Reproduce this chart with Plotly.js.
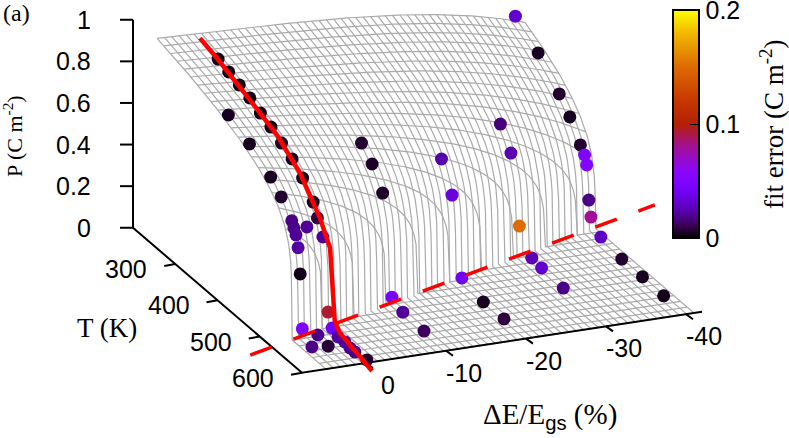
<!DOCTYPE html>
<html>
<head>
<meta charset="utf-8">
<script src="https://cdn.plot.ly/plotly-3.0.1.min.js"></script>
<style>html,body{margin:0;padding:0;background:#fff}#grafico{width:789px;height:438px}</style>
</head>
<body>
<div id="grafico"></div>
<script>
// points: strain (%), temperature (K), polarization, fit error
const ptE = [0,0,0,0,0,0,0,0,0,0,0,
  4,4,4,4,4,4,4,4,4,4,
  2,0,0,2,3.75,1.93,-0.72,-0.25,-0.37,-0.16,-0.19,-0.48,
  -10.2,-10.1,-10.9,-20.7,-20,-20.1,-30.6,-30.4,-30.2,-40.5,-40,-40,-39.9,
  -39.8,-40,-40,-40,-40,-40,-40,-40,-40,
  -30,-30,-30,-20,-20,-10,-10,-10];
const ptT = [250,275,300,325,350,375,400,425,450,475,485,
  350,400,450,475,500,505,510,515,520,525,
  498,498,510,524,543,547,506,529,543,559,570,593,
  494,546,455,435,499,546,413,440,495,389,448,497,549,
  200,250,300,325,350,360,365,370,375,
  350,375,395,400,425,400,425,450];
const ptP = [.851,.833,.814,.795,.766,.742,.709,.676,.628,.556,.497,
  .78,.728,.656,.604,.533,.508,.483,.43,.3125,.057,
  .488,.428,.088,.014,0,0,0,0,0,0,0,0,
  0,0,0,0,0,0,0,0,0,0,0,0,0,
  .737,.646,.536,.469,.378,.347,.308,.148,.075,
  .537,.441,.125,.515,.385,.65,.593,.497];
const ptErr = [.003,.003,.003,.003,.003,.003,.004,.004,.004,.005,.008,
  .004,.004,.004,.006,.018,.018,.02,.022,.003,.048,
  .02,.02,.094,.018,.018,.007,.04,.022,.02,.02,.018,.006,
  .02,.012,.045,.04,.004,.008,.025,.03,.018,.028,.006,.004,.003,
  .03,.004,.006,.004,.006,.05,.052,.018,.08,
  .016,.025,.15,.024,.034,.006,.005,.005];

// solid red curve
const curveE = [0,0,0,0,0,0,0,-1,-1.9,-0.95,0.35];
const curveT = [207,247,325,389,444,484,491,496,490,520,621];
const curveP = [.877,.851,.786,.729,.641,.534,.507,.366,0,0,0];

// dashed red line on the floor
const dashE = [11.3,-50.2];
const dashT = [540,333];
const dashP = [0,0];

const tempTicks = [300,400,500,600];
const strainTicks = [0,-10,-20,-30,-40];
const polTicks = [0,.2,.4,.6,.8,1];
const polLabels = ['0','0.2','0.4','0.6','0.8','1'];

const errMax = 0.2;
const errTicks = [0,.1,.2];
const errLabels = ['0','0.1','0.2'];
const paleta = [[0,'#000000'],[.05,'#39004f'],[.1,'#500096'],[.15,'#6301ce'],[.2,'#7202f3'],[.25,'#8004ff'],
  [.3,'#8c07f3'],[.4,'#a11096'],[.45,'#ab174f'],[.5,'#b42000'],[.6,'#c63700'],[.75,'#dd6b00'],[.9,'#f2b900'],[1,'#ffff00']];

// gnuplot style view, fitted to the axis ticks of the picture
function proyX(e, t) { return 366 - 8.0 * e + 0.4225 * (t - 600); }
function proyY(e, t, p) { return 363 + 1.22 * e + 0.3625 * (t - 600) - 208 * p; }

// fit surface, constants (not read point by point)
function fitP(e, t) {
    const tc = 502.6 + 3.32 * e;
    if (t >= tc) return 0;
    return (0.978 - 0.125 * Math.pow(e / 41, 4)) * Math.pow(1 - t / tc, 0.193 - 0.0014 * e);
}

function armarMalla() {
    const xs = [];
    const ys = [];
    for (let j = 0; j <= 50; j++) {
        const e = 5 - 0.92 * j;
        for (let t = 200; t <= 600; t += 2) {
            xs.push(proyX(e, t));
            ys.push(proyY(e, t, fitP(e, t)));
        }
        xs.push(null);
        ys.push(null);
    }
    for (let i = 0; i <= 25; i++) {
        const t = 200 + 16 * i;
        for (let k = 0; k <= 200; k++) {
            const e = 5 - 0.23 * k;
            xs.push(proyX(e, t));
            ys.push(proyY(e, t, fitP(e, t)));
        }
        xs.push(null);
        ys.push(null);
    }
    return { x: xs, y: ys };
}

function armarEjes() {
    const xs = [proyX(8, 200), proyX(8, 200), proyX(8, 600), proyX(-42, 600), null];
    const ys = [proyY(8, 200, 1), proyY(8, 200, 0), proyY(8, 600, 0), proyY(-42, 600, 0), null];
    polTicks.forEach(p => {
        xs.push(proyX(8, 200), proyX(8, 200) - 13, null);
        ys.push(proyY(8, 200, p), proyY(8, 200, p), null);
    });
    tempTicks.forEach(t => {
        xs.push(proyX(8, t), proyX(8, t) - 11, null);
        ys.push(proyY(8, t, 0), proyY(8, t, 0) + 2, null);
    });
    strainTicks.forEach(e => {
        xs.push(proyX(e, 600), proyX(e, 600) + 7, null);
        ys.push(proyY(e, 600, 0), proyY(e, 600, 0) + 5, null);
    });
    return { x: xs, y: ys };
}

function texto(x, y, text, size, family, extra) {
    return Object.assign({
        x: x, y: y, xref: 'x', yref: 'y', text: text, showarrow: false,
        font: { size: size, family: family, color: '#000' }
    }, extra || {});
}

const sans = '"Liberation Sans", Arial, sans-serif';
const serif = '"Liberation Serif", "Times New Roman", serif';

const anotaciones = [];
polTicks.forEach((p, i) => {
    anotaciones.push(texto(93, proyY(8, 200, p), polLabels[i], 25, sans, { xanchor: 'right' }));
});
tempTicks.forEach(t => {
    anotaciones.push(texto(proyX(8, t) - 26, proyY(8, t, 0) + 5, String(t), 25, sans, { xanchor: 'right' }));
});
strainTicks.forEach(e => {
    const dx = e === 0 ? 22 : 18;
    anotaciones.push(texto(proyX(e, 600) + dx, proyY(e, 600, 0) + 22, String(e), 25, sans));
});
anotaciones.push(texto(1, 13, '(a)', 24, serif, { xanchor: 'left' }));
anotaciones.push(texto(13, 136, 'P (C m<sup>-2</sup>)', 22, serif, { textangle: -90 }));
anotaciones.push(texto(107, 328, 'T (K)', 27, serif));
anotaciones.push(texto(550, 416, 'ΔE/E<sub><span style="font-family:\'Liberation Sans\'">gs</span></sub> (%)', 29, serif));
anotaciones.push(texto(772, 125, 'fit error (C m<sup>-2</sup>)', 27, serif, { textangle: -90 }));

const malla = armarMalla();
const ejes = armarEjes();

const data = [
    {
        x: malla.x, y: malla.y, type: 'scatter', mode: 'lines', hoverinfo: 'skip',
        line: { color: '#aaaaaa', width: 1.2 }
    },
    {
        x: ejes.x, y: ejes.y, type: 'scatter', mode: 'lines', hoverinfo: 'skip',
        line: { color: '#000', width: 2 }
    },
    {
        x: ptE.map((e, i) => proyX(e, ptT[i])),
        y: ptE.map((e, i) => proyY(e, ptT[i], ptP[i])),
        type: 'scatter',
        mode: 'markers',
        marker: {
            size: 13,
            color: ptErr,
            cmin: 0,
            cmax: errMax,
            colorscale: paleta,
            line: { width: 0 },
            colorbar: {
                x: 673 / 789,
                xref: 'paper',
                xanchor: 'left',
                y: 314 / 438,
                yref: 'paper',
                yanchor: 'middle',
                thickness: 26,
                thicknessmode: 'pixels',
                len: 228,
                lenmode: 'pixels',
                xpad: 0,
                ypad: 0,
                outlinewidth: 2,
                outlinecolor: '#000',
                borderwidth: 0,
                ticks: 'inside',
                ticklen: 10,
                tickwidth: 1,
                tickcolor: '#000',
                tickmode: 'array',
                tickvals: errTicks,
                ticktext: errLabels,
                ticklabeloverflow: 'allow',
                tickfont: { size: 25, family: sans, color: '#000' }
            }
        }
    },
    {
        x: curveE.map((e, i) => proyX(e, curveT[i])),
        y: curveE.map((e, i) => proyY(e, curveT[i], curveP[i])),
        type: 'scatter', mode: 'lines', hoverinfo: 'skip',
        line: { color: '#ff0000', width: 4.5 }
    },
    {
        x: dashE.map((e, i) => proyX(e, dashT[i])),
        y: dashE.map((e, i) => proyY(e, dashT[i], dashP[i])),
        type: 'scatter', mode: 'lines', hoverinfo: 'skip',
        line: { color: '#ff0000', width: 3.5, dash: '23px,23px' }
    }
];

const layout = {
    width: 789,
    height: 438,
    margin: { l: 0, r: 0, t: 0, b: 0, pad: 0, autoexpand: false },
    paper_bgcolor: '#fff',
    plot_bgcolor: '#fff',
    showlegend: false,
    xaxis: { range: [0, 789], visible: false, fixedrange: true },
    yaxis: { range: [438, 0], visible: false, fixedrange: true },
    annotations: anotaciones
};

Plotly.newPlot('grafico', data, layout, { displayModeBar: false, staticPlot: true });
</script>
</body>
</html>
